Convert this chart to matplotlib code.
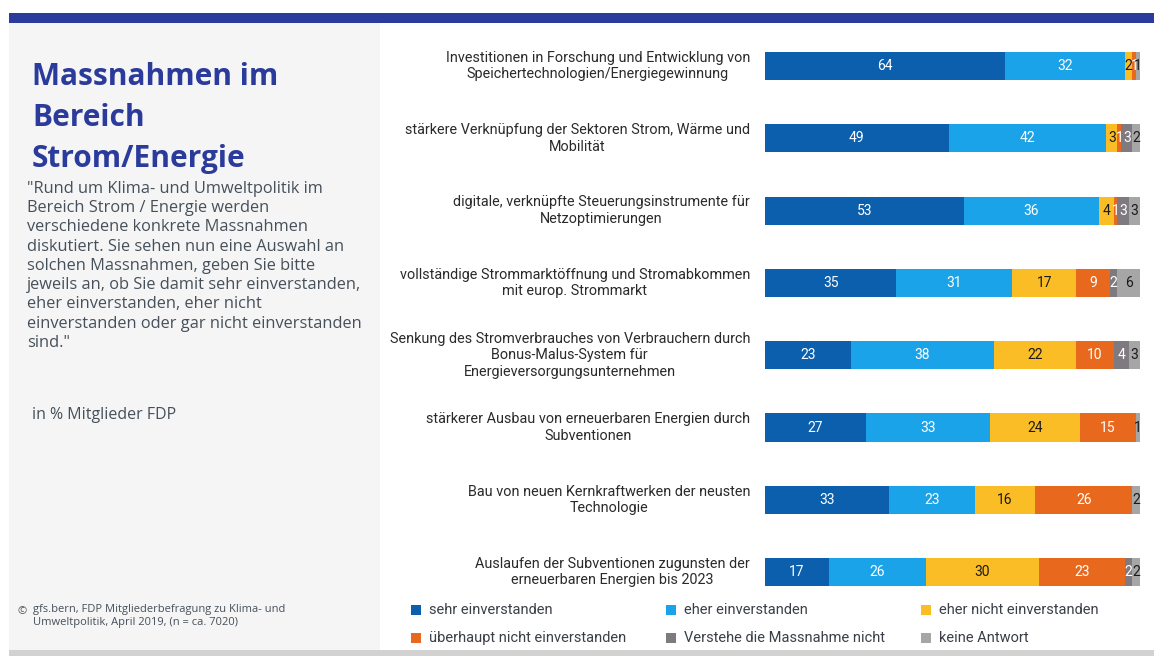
import matplotlib
matplotlib.use("Agg")
import matplotlib.pyplot as plt
from matplotlib.patches import Rectangle
import numpy as np

categories = [
    "Investitionen in Forschung und Entwicklung von\nSpeichertechnologien/Energiegewinnung",
    "stärkere Verknüpfung der Sektoren Strom, Wärme und\nMobilität",
    "digitale, verknüpfte Steuerungsinstrumente für\nNetzoptimierungen",
    "vollständige Strommarktöffnung und Stromabkommen\nmit europ. Strommarkt",
    "Senkung des Stromverbrauches von Verbrauchern durch\nBonus-Malus-System für\nEnergieversorgungsunternehmen",
    "stärkerer Ausbau von erneuerbaren Energien durch\nSubventionen",
    "Bau von neuen Kernkraftwerken der neusten\nTechnologie",
    "Auslaufen der Subventionen zugunsten der\nerneuerbaren Energien bis 2023",
]
series_names = ["sehr einverstanden", "eher einverstanden", "eher nicht einverstanden",
                "überhaupt nicht einverstanden", "Verstehe die Massnahme nicht", "keine Antwort"]
sehr = [64, 49, 53, 35, 23, 27, 33, 17]
eher = [32, 42, 36, 31, 38, 33, 23, 26]
eher_nicht = [2, 3, 4, 17, 22, 24, 16, 30]
gar_nicht = [1, 1, 1, 9, 10, 15, 26, 23]
verstehe_nicht = [0, 3, 3, 2, 4, 0, 0, 2]
keine_antwort = [1, 2, 3, 6, 3, 1, 2, 2]

colors = ["#0b5fad", "#1aa3e8", "#fbbd25", "#e8691d", "#7e7a80", "#a6a6a6"]
text_colors = ["white", "white", "#1a1a1a", "white", "white", "#1a1a1a"]

W, H = 1154, 656
fig = plt.figure(figsize=(W / 100, H / 100), dpi=100)
fig.patch.set_facecolor("white")

def fx(px):
    return px / W

def fy(py):
    return 1 - py / H

# background decorations
fig.patches.append(Rectangle((fx(9), fy(23)), fx(1154 - 9), 10 / H, transform=fig.transFigure,
                             facecolor="#2b3b9c", edgecolor="none", zorder=0))
fig.patches.append(Rectangle((fx(9), fy(650)), fx(380 - 9), (650 - 23) / H, transform=fig.transFigure,
                             facecolor="#f5f5f5", edgecolor="none", zorder=0))
fig.patches.append(Rectangle((fx(9), 0), fx(1154 - 9), 6 / H, transform=fig.transFigure,
                             facecolor="#d2d2d2", edgecolor="none", zorder=0))

sans = ["Open Sans", "DejaVu Sans"]
narrow = ["Roboto", "DejaVu Sans"]

# left panel text
for i, line in enumerate(["Massnahmen im", "Bereich", "Strom/Energie"]):
    fig.text(fx(32), fy(77 + i * 41), line, fontsize=21.5, fontweight="bold", color="#2b3b9c",
             family=sans, va="center", ha="left")
body = ('"Rund um Klima- und Umweltpolitik im\nBereich Strom / Energie werden\n'
        'verschiedene konkrete Massnahmen\ndiskutiert. Sie sehen nun eine Auswahl an\n'
        'solchen Massnahmen, geben Sie bitte\njeweils an, ob Sie damit sehr einverstanden,\n'
        'eher einverstanden, eher nicht\neinverstanden oder gar nicht einverstanden\nsind."')
fig.text(fx(27), fy(181), body, fontsize=11.8, color="#46505a", family=sans, va="top", ha="left",
         linespacing=1.27)
fig.text(fx(32), fy(415), "in % Mitglieder FDP", fontsize=11.5, color="#46505a", family=sans,
         va="center", ha="left")
fig.text(fx(18), fy(612), "©", fontsize=8, color="#46505a", family=sans, va="center", ha="left")
fig.text(fx(33), fy(604), "gfs.bern, FDP Mitgliederbefragung zu Klima- und\nUmweltpolitik, April 2019, (n = ca. 7020)",
         fontsize=8, color="#46505a", family=sans, va="top", ha="left", linespacing=1.3)

# bars
ax = fig.add_axes([fx(765), 1 - 608.25 / H, 375 / W, 578.4 / H])
ax.set_facecolor("none")
data = np.array([sehr, eher, eher_nicht, gar_nicht, verstehe_nicht, keine_antwort], dtype=float)
y = np.arange(len(categories))
left = np.zeros(len(categories))
for k in range(len(series_names)):
    ax.barh(y, data[k], left=left, height=0.39, color=colors[k], edgecolor="none", label=series_names[k])
    for i in range(len(categories)):
        v = data[k][i]
        if v > 0:
            ax.text(left[i] + v / 2, y[i], f"{int(v)}", ha="center", va="center", fontsize=10,
                    color=text_colors[k], family=narrow)
    left += data[k]
ax.set_xlim(0, 100)
ax.set_ylim(len(categories) - 0.5, -0.5)
ax.axis("off")

for i, c in enumerate(categories):
    ax.text(-4, y[i], c, ha="right", va="center", multialignment="center", fontsize=10.4,
            color="#2a2a2a", family=narrow, transform=ax.transData, linespacing=1.22)

# legend
legend_pos = [(415, 610), (670, 610), (925, 610), (415, 638), (670, 638), (925, 638)]
for k, (px, py) in enumerate(legend_pos):
    fig.patches.append(Rectangle((fx(px - 4), fy(py + 5)), 10 / W, 10 / H, transform=fig.transFigure,
                                 facecolor=colors[k], edgecolor="none"))
    fig.text(fx(px + 14), fy(py), series_names[k], fontsize=10.5, color="#3a3f48", family=narrow,
             va="center", ha="left")

fig.savefig("out.png", dpi=100, facecolor=fig.get_facecolor())
